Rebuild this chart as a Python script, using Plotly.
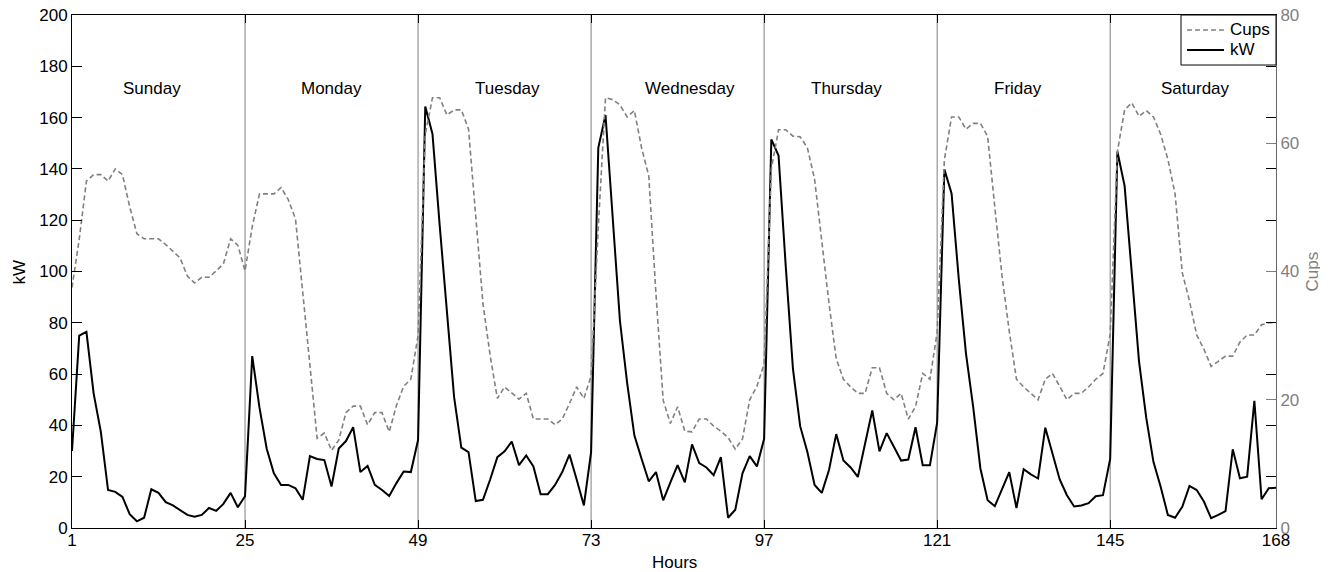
import plotly.graph_objects as go

hours = list(range(1, 169))

kw = [
    # Sunday
    30, 75, 76.5, 52.5, 37.5, 14.8, 14.1, 12.1, 5.4, 2.6, 4, 15.1, 13.7, 10.1, 8.8, 7, 5.1, 4.4, 5.1, 7.8, 6.7, 9.4, 13.7, 8.1,
    # Monday
    12.4, 67, 47, 31, 21.3, 16.8, 16.8, 15.5, 11, 28, 26.9, 26.5, 16.2, 31, 33.9, 39.3, 21.8, 24.2, 16.8, 14.8, 12.5, 17.5, 22, 21.8,
    # Tuesday
    34.3, 164.3, 153.6, 118, 83, 51, 31.3, 29.6, 10.5, 11, 18.9, 27.6, 29.9, 33.7, 24.5, 28.3, 24, 13.2, 13.2, 16.8, 21.8, 28.6, 18.9, 8.8,
    # Wednesday
    29.6, 148.2, 161, 121, 80.8, 56.6, 36.1, 27, 18.2, 21.8, 10.8, 17.8, 24.5, 17.8, 32.6, 25.3, 23.6, 20.6, 27.6, 4, 7.1, 21.3, 28, 24,
    # Thursday
    34.8, 151.5, 145.2, 102, 62, 39.7, 29.6, 16.8, 13.7, 22.6, 36.6, 26.3, 23.6, 19.9, 33, 45.8, 29.9, 37, 31.7, 26.3, 26.7, 39.3, 24.5, 24.5,
    # Friday
    41.1, 139.8, 130.4, 97, 68, 47.1, 23.2, 10.8, 8.5, 15.1, 21.8, 7.8, 22.9, 20.9, 19.3, 39.1, 28.6, 18.9, 12.8, 8.4, 8.8, 9.7, 12.4, 12.8,
    # Saturday
    26.9, 146.8, 133.4, 100, 65, 43, 25.8, 16.1, 5.1, 4.0, 8.3, 16.4, 14.8, 10.3, 3.8, 5.1, 6.6, 30.7, 19.4, 20, 49.6, 11.2, 15.5, 15.7,
]

cups = [
    # Sunday
    37.5, 45, 54.1, 55.1, 55.1, 54.1, 56, 55.1, 50.1, 45.9, 45.1, 45.1, 45.1, 44.2, 43.2, 42.1, 39.3, 38.2, 39.1, 39.1, 40.1, 41.2, 45.1, 44.1,
    # Monday
    40.1, 47, 52.1, 52.1, 52.1, 53.1, 51.2, 48.2, 36.5, 25, 14, 14.8, 12.1, 13.7, 18, 19, 19, 16.1, 18, 18, 15, 19.1, 22.1, 23.2,
    # Tuesday
    30, 61.4, 67.1, 67.1, 64.4, 65.2, 65.2, 62.2, 49, 35, 26.9, 20.2, 22, 21, 20.1, 21, 17, 17, 17, 16.1, 17, 19.4, 22, 20.2,
    # Wednesday
    23.7, 47, 67.1, 66.8, 66, 64.1, 65.1, 59.3, 54.9, 36.5, 19.9, 16.3, 18.9, 15.1, 15, 17, 17, 15.9, 15.1, 14.1, 12.3, 13.9, 20, 22.1,
    # Thursday
    25.6, 56, 62.1, 62.1, 61.1, 61, 59.3, 54.4, 44.7, 35, 26.4, 23.2, 22, 21, 21, 25, 25, 21, 20, 21, 17, 18.9, 24.1, 23.2,
    # Friday
    30.5, 57.4, 64.1, 64.1, 62.2, 63.1, 63.1, 61.1, 50, 39.3, 30.7, 23.2, 22, 21, 20, 23.2, 24.1, 22.1, 20, 21, 21, 22, 23.2, 24.1,
    # Saturday
    30.2, 58.7, 65.2, 66.3, 64.2, 65.1, 64.1, 61.4, 57.5, 52.1, 39.8, 35.4, 30.1, 27.9, 25.2, 26, 26.8, 26.8, 29, 30.1, 30.1, 31.7, 32, 32,
]

x_ticks = [1, 25, 49, 73, 97, 121, 145, 168]
day_bounds = [25, 49, 73, 97, 121, 145]
day_names = ["Sunday", "Monday", "Tuesday", "Wednesday", "Thursday", "Friday", "Saturday"]
day_label_x = [12.1, 37, 61.4, 86.7, 108.4, 132.2, 156.9]
day_label_y = 171.5
kw_ticks = list(range(0, 201, 20))
cups_ticks = [0, 20, 40, 60, 80]

FONT = "Liberation Sans, Arial, Helvetica, sans-serif"
GRAY = "#808080"

fig = go.Figure()
fig.add_trace(go.Scatter(
    x=hours, y=cups, name="Cups", mode="lines", yaxis="y2",
    line=dict(color=GRAY, width=1.6, dash="5px,3px"),
))
fig.add_trace(go.Scatter(
    x=hours, y=kw, name="kW", mode="lines", yaxis="y",
    line=dict(color="black", width=2),
))

shapes = [
    dict(type="line", xref="x", yref="paper", x0=b, x1=b, y0=0, y1=1,
         line=dict(color=GRAY, width=1), layer="below")
    for b in day_bounds
]
# legend box (drawn manually, MATLAB-style)
shapes += [
    dict(type="rect", xref="paper", yref="paper", x0=0.9211, x1=1.0, y0=0.9025, y1=1.0,
         line=dict(color="black", width=1), fillcolor="white", layer="above"),
    dict(type="line", xref="paper", yref="paper", x0=0.9261, x1=0.9568, y0=0.9708, y1=0.9708,
         line=dict(color=GRAY, width=1.6, dash="5px,3px"), layer="above"),
    dict(type="line", xref="paper", yref="paper", x0=0.9261, x1=0.9568, y0=0.9318, y1=0.9318,
         line=dict(color="black", width=2), layer="above"),
]

annotations = [
    dict(x=xx, y=day_label_y, xref="x", yref="y", text=name, showarrow=False,
         font=dict(size=17, color="black", family=FONT), xanchor="center", yanchor="middle")
    for xx, name in zip(day_label_x, day_names)
]
annotations += [
    dict(x=0.9605, y=0.9708, xref="paper", yref="paper", text="Cups", showarrow=False,
         font=dict(size=17, color="black"), xanchor="left", yanchor="middle"),
    dict(x=0.9605, y=0.9318, xref="paper", yref="paper", text="kW", showarrow=False,
         font=dict(size=17, color="black"), xanchor="left", yanchor="middle"),
    # axis titles
    dict(x=-0.0432, y=0.5, xref="paper", yref="paper", text="kW", textangle=-90,
         showarrow=False, font=dict(size=17, color="black"), xanchor="center", yanchor="middle"),
    dict(x=1.0307, y=0.5, xref="paper", yref="paper", text="Cups", textangle=-90,
         showarrow=False, font=dict(size=17, color=GRAY), xanchor="center", yanchor="middle"),
    dict(x=0.5, y=-0.068, xref="paper", yref="paper", text="Hours",
         showarrow=False, font=dict(size=17, color="black"), xanchor="center", yanchor="middle"),
]

fig.update_layout(
    width=1320, height=564,
    margin=dict(l=64, r=52, t=7, b=44, autoexpand=False),
    paper_bgcolor="white", plot_bgcolor="white",
    font=dict(family=FONT, size=17, color="black"),
    showlegend=False,
    xaxis=dict(range=[1, 168], tickvals=x_ticks, ticks="inside", ticklen=8,
               tickcolor="black", showline=True, linecolor="black", linewidth=1,
               mirror="ticks", showgrid=False, zeroline=False, automargin=False,
               ticklabeloverflow="allow", ticklabelstandoff=-3),
    yaxis=dict(range=[0, 200], tickvals=kw_ticks, ticks="inside", ticklen=10,
               tickcolor="black", showline=True, linecolor="black", linewidth=1,
               mirror="ticks", showgrid=False, zeroline=False, automargin=False,
               ticklabeloverflow="allow"),
    yaxis2=dict(range=[0, 80], tickvals=cups_ticks, overlaying="y", side="right",
                ticks="inside", ticklen=10, tickcolor=GRAY, showline=True,
                linecolor="#666666", linewidth=1, showgrid=False, zeroline=False,
                tickfont=dict(color=GRAY, size=17), automargin=False,
                ticklabeloverflow="allow"),
    shapes=shapes,
    annotations=annotations,
)

fig.write_html("out.html")
